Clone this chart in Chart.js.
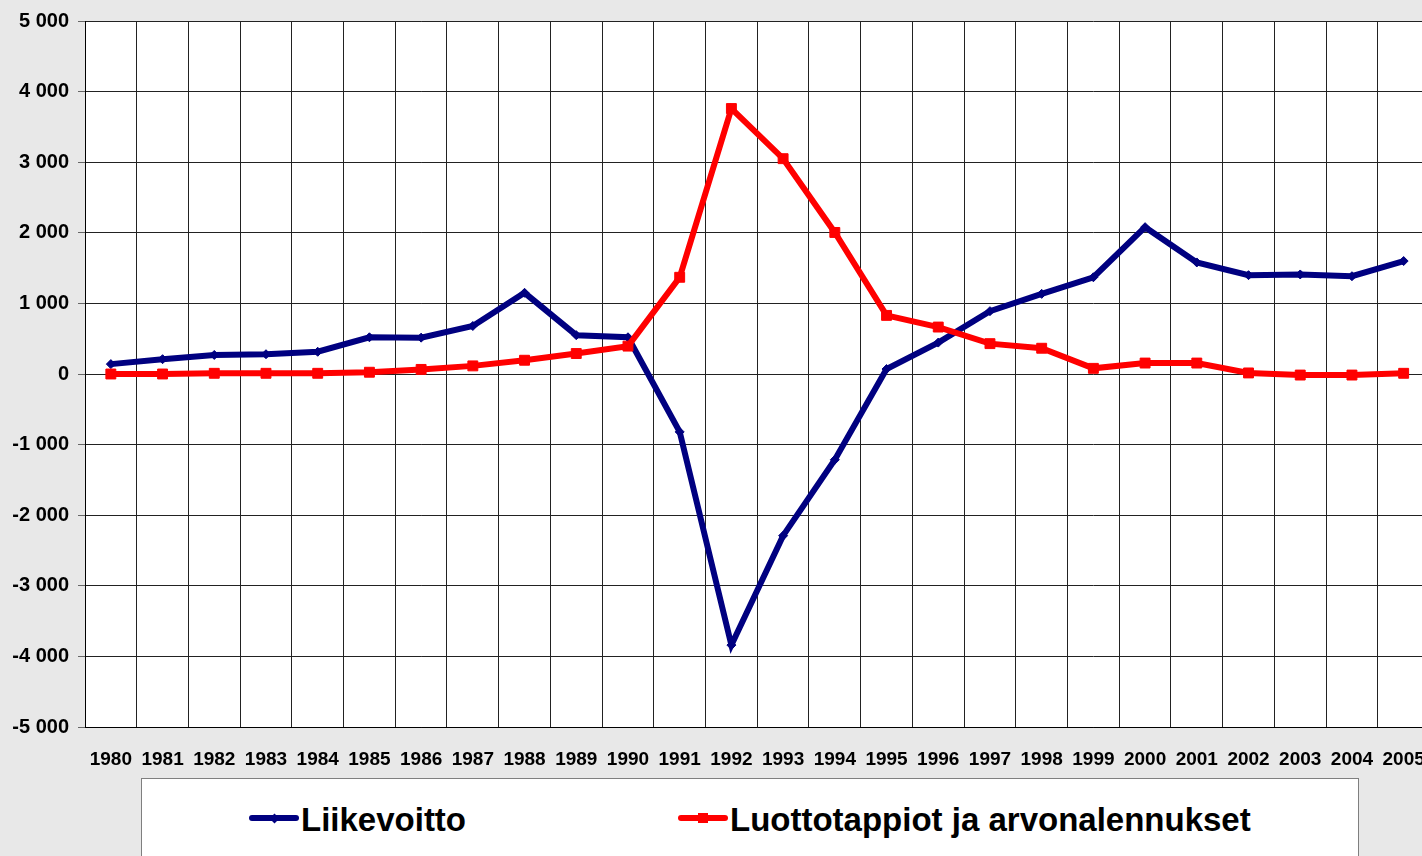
<!DOCTYPE html>
<html>
<head>
<meta charset="utf-8">
<script src="https://cdn.jsdelivr.net/npm/chart.js@4.4.0/dist/chart.umd.min.js"></script>
<style>
  html, body { margin: 0; padding: 0; background: #e8e8e8; overflow: hidden; }
  #wrap { position: relative; width: 1422px; height: 856px; overflow: hidden; }
  #chart { position: absolute; left: 0; top: 0; }
  #legend {
    position: absolute; left: 141px; top: 778px; width: 1216px; height: 100px;
    background: #fff; border: 1px solid #7f7f7f;
    font-family: "Liberation Sans", Arial, sans-serif; font-weight: bold; font-size: 33px;
  }
  .lg-line { position: absolute; top: 36px; width: 50px; height: 6px; border-radius: 3px; }
  .lg-mark { position: absolute; }
  .lg-text { position: absolute; top: 24px; line-height: 33px; white-space: nowrap; color: #000; }
</style>
</head>
<body>
<div id="wrap">
  <canvas id="chart" width="1446" height="856"></canvas>
  <div id="legend"></div>
</div>
<script>
const years = ['1980', '1981', '1982', '1983', '1984', '1985', '1986', '1987', '1988', '1989',
  '1990', '1991', '1992', '1993', '1994', '1995', '1996', '1997', '1998', '1999',
  '2000', '2001', '2002', '2003', '2004', '2005'];

// Liikevoitto (blue)
const liikevoitto = [140, 210, 270, 280, 315, 520, 515, 680, 1150, 550,
  520, -820, -3840, -2290, -1215, 70, 445, 890, 1135, 1370,
  2080, 1580, 1400, 1410, 1385, 1600];

// Luottotappiot ja arvonalennukset (red)
const luottotappiot = [0, 0, 10, 10, 10, 25, 65, 115, 195, 290,
  395, 1370, 3760, 3050, 2005, 830, 665, 430, 365, 80,
  155, 155, 15, -15, -15, 10];

const yMin = -5000;
const yMax = 5000;
const yStep = 1000;

function fmt(v) {
  const s = Math.abs(v).toString().replace(/\B(?=(\d{3})+(?!\d))/g, ' ');
  return (v < 0 ? '-' : '') + s;
}

const font = "'Liberation Sans', Arial, sans-serif";

// white plot area on the grey page
const plotBg = {
  id: 'plotBg',
  beforeDraw(chart) {
    const a = chart.chartArea;
    const ctx = chart.ctx;
    ctx.save();
    ctx.fillStyle = '#fff';
    ctx.fillRect(a.left, a.top, a.right - a.left, a.bottom - a.top);
    ctx.restore();
  }
};

const chart = new Chart(document.getElementById('chart').getContext('2d'), {
  type: 'line',
  data: {
    labels: years,
    datasets: [{
      label: 'Liikevoitto',
      data: liikevoitto,
      borderColor: '#000080',
      backgroundColor: '#000080',
      borderWidth: 6,
      pointStyle: 'rectRot',
      pointRadius: 4.5,
      pointBorderWidth: 1,
      tension: 0,
      order: 2
    }, {
      label: 'Luottotappiot ja arvonalennukset',
      data: luottotappiot,
      borderColor: '#ff0000',
      backgroundColor: '#ff0000',
      borderWidth: 6,
      pointStyle: 'rect',
      pointRadius: 7,
      pointBorderWidth: 1,
      tension: 0,
      order: 1
    }]
  },
  options: {
    responsive: false,
    animation: false,
    layout: { padding: { top: 19, right: 11, left: 0, bottom: 0 } },
    plugins: {
      legend: { display: false },
      tooltip: { enabled: false }
    },
    scales: {
      x: {
        offset: true,
        grid: { offset: true, color: '#222', drawTicks: false },
        border: { color: '#000' },
        ticks: {
          padding: 21, color: '#000', autoSkip: false, maxRotation: 0,
          font: { family: font, size: 19, weight: 'bold' }
        },
        afterFit: s => { s.height = 129; }
      },
      y: {
        min: yMin,
        max: yMax,
        grid: { color: '#222', tickLength: 7, tickColor: '#666' },
        border: { color: '#000' },
        ticks: {
          stepSize: yStep, padding: 9, color: '#000',
          font: { family: font, size: 20, weight: 'bold' },
          callback: v => fmt(v)
        },
        afterFit: s => { s.width = 85; }
      }
    }
  },
  plugins: [plotBg]
});

// HTML legend built from the chart's datasets
const legend = document.getElementById('legend');
const itemX = [107, 536];
chart.data.datasets.forEach((ds, i) => {
  const x = itemX[i];
  const line = document.createElement('div');
  line.className = 'lg-line';
  line.style.left = x + 'px';
  line.style.background = ds.borderColor;
  legend.appendChild(line);

  const mark = document.createElement('div');
  mark.className = 'lg-mark';
  mark.style.background = ds.borderColor;
  if (ds.pointStyle === 'rect') {
    mark.style.width = '10px'; mark.style.height = '10px';
    mark.style.left = (x + 20) + 'px'; mark.style.top = '34px';
  } else {
    mark.style.width = '7px'; mark.style.height = '7px';
    mark.style.left = (x + 21.5) + 'px'; mark.style.top = '35.5px';
    mark.style.transform = 'rotate(45deg)';
  }
  legend.appendChild(mark);

  const text = document.createElement('div');
  text.className = 'lg-text';
  text.style.left = (x + 52) + 'px';
  text.textContent = ds.label;
  legend.appendChild(text);
});
</script>
</body>
</html>
